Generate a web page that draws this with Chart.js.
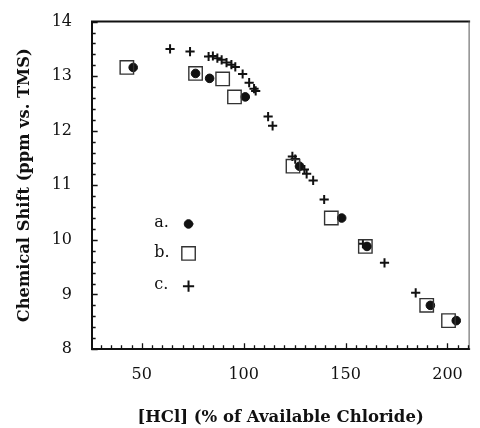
<!DOCTYPE html>
<html>
<head>
<meta charset="utf-8">
<script src="https://cdn.jsdelivr.net/npm/chart.js@4.4.1/dist/chart.umd.min.js"></script>
<style>
  html, body { margin: 0; padding: 0; background: #fff; }
  #wrap { width: 480px; height: 428px; }
</style>
</head>
<body>
<div id="wrap"><canvas id="shiftChart" width="480" height="428"></canvas></div>
<script>
// series a. (filled circles)
const hclA = [45.8, 76.4, 83.3, 100.8, 127.4, 148.1, 160.5, 191.6, 204.3];
const shiftA = [13.16, 13.05, 12.96, 12.62, 11.35, 10.40, 9.88, 8.80, 8.52];

// series b. (open squares)
const hclB = [42.7, 76.4, 89.7, 95.5, 124.2, 143.0, 159.7, 189.8, 200.5];
const shiftB = [13.16, 13.05, 12.95, 12.62, 11.35, 10.40, 9.88, 8.80, 8.52];

// series c. (crosses)
const hclC = [63.9, 73.7, 82.8, 84.9, 87.1, 89.2, 91.6, 94.0, 95.9, 99.5, 102.7, 105.1, 105.9,
              112.0, 114.2, 123.9, 125.3, 129.8, 130.9, 134.1, 139.5, 158.5, 169.1, 184.4];
const shiftC = [13.50, 13.45, 13.36, 13.37, 13.33, 13.30, 13.25, 13.21, 13.17, 13.04, 12.88, 12.77, 12.73,
                12.26, 12.09, 11.53, 11.48, 11.29, 11.21, 11.09, 10.74, 9.93, 9.58, 9.03];

const legendLabels = ['a.', 'b.', 'c.'];
const xTickValues = [50, 100, 150, 200];
const yTickValues = [8, 9, 10, 11, 12, 13, 14];

const serif = '"DejaVu Serif", "Liberation Serif", serif';
const ink = '#111';

function toPoints(xs, ys) {
  return xs.map((x, i) => ({ x: x, y: ys[i] }));
}

const markA = { pointStyle: 'circle', radius: 4.3, backgroundColor: ink, borderColor: ink, borderWidth: 1 };
const markB = { pointStyle: 'rect', radius: 9.5, backgroundColor: 'rgba(0,0,0,0)', borderColor: '#333', borderWidth: 1.4 };
const markC = { pointStyle: 'cross', radius: 4.6, backgroundColor: ink, borderColor: ink, borderWidth: 2 };

function dataset(label, pts, m) {
  return {
    label: label,
    data: pts,
    pointStyle: m.pointStyle,
    pointRadius: m.radius,
    pointBackgroundColor: m.backgroundColor,
    pointBorderColor: m.borderColor,
    pointBorderWidth: m.borderWidth,
    showLine: false
  };
}

// frame, inward tick marks and the in-plot key
const framePlugin = {
  id: 'frame',
  afterDraw(chart) {
    const ctx = chart.ctx;
    const a = chart.chartArea;
    const xs = chart.scales.x;
    const ys = chart.scales.y;
    ctx.save();
    ctx.strokeStyle = ink;
    ctx.lineCap = 'square';

    ctx.lineWidth = 2;
    ctx.beginPath();
    ctx.moveTo(a.right, a.top);
    ctx.lineTo(a.left, a.top);
    ctx.lineTo(a.left, a.bottom);
    ctx.lineTo(a.right, a.bottom);
    ctx.stroke();
    ctx.lineWidth = 1;
    ctx.strokeStyle = '#555';
    ctx.beginPath();
    ctx.moveTo(a.right, a.top);
    ctx.lineTo(a.right, a.bottom);
    ctx.stroke();

    ctx.strokeStyle = ink;
    ctx.lineWidth = 1.3;
    ctx.beginPath();
    for (let v = Math.ceil(xs.min / 5) * 5; v <= xs.max; v += 5) {
      const px = Math.round(xs.getPixelForValue(v)) + 0.5;
      const len = v % 50 === 0 ? 5 : 3;
      ctx.moveTo(px, a.bottom);
      ctx.lineTo(px, a.bottom - len);
    }
    for (let k = 40; k <= 70; k++) {
      const v = k / 5;
      const py = Math.round(ys.getPixelForValue(v)) + 0.5;
      const len = k % 5 === 0 ? 5 : 3;
      ctx.moveTo(a.left, py);
      ctx.lineTo(a.left + len, py);
    }
    ctx.stroke();

    // key
    const marks = [markA, markB, markC];
    const rows = [0.615, 0.705, 0.805];
    const tx = a.left + 0.165 * (a.right - a.left);
    const mx = a.left + 0.256 * (a.right - a.left);
    ctx.font = '16px ' + serif;
    ctx.textBaseline = 'middle';
    ctx.textAlign = 'left';
    legendLabels.forEach((lab, i) => {
      const y = a.top + rows[i] * (a.bottom - a.top);
      ctx.fillStyle = ink;
      ctx.fillText(lab, tx, y);
      ctx.fillStyle = marks[i].backgroundColor;
      ctx.strokeStyle = marks[i].borderColor;
      ctx.lineWidth = marks[i].borderWidth;
      Chart.helpers.drawPoint(ctx, {
        pointStyle: marks[i].pointStyle,
        radius: marks[i].radius,
        borderWidth: marks[i].borderWidth
      }, mx, y + 1);
    });
    ctx.restore();
  }
};

new Chart(document.getElementById('shiftChart'), {
  type: 'scatter',
  data: {
    datasets: [
      dataset('b.', toPoints(hclB, shiftB), markB),
      dataset('c.', toPoints(hclC, shiftC), markC),
      dataset('a.', toPoints(hclA, shiftA), markA)
    ]
  },
  options: {
    responsive: false,
    animation: false,
    layout: { padding: { top: 16, right: 1, left: 0, bottom: 0 } },
    plugins: {
      legend: { display: false },
      tooltip: { enabled: false }
    },
    scales: {
      x: {
        type: 'linear',
        min: 25.6,
        max: 210.6,
        afterBuildTicks: scale => { scale.ticks = xTickValues.map(v => ({ value: v })); },
        afterFit: scale => { scale.height = 79; },
        grid: { display: false },
        border: { display: false },
        ticks: { color: ink, font: { family: serif, size: 16 }, padding: 8, maxRotation: 0 },
        title: {
          display: true,
          text: '[HCl] (% of Available Chloride)',
          color: ink,
          font: { family: serif, size: 16.5, weight: 'bold' },
          padding: { top: 0, bottom: 0 }
        }
      },
      y: {
        type: 'linear',
        min: 8,
        max: 14,
        afterBuildTicks: scale => { scale.ticks = yTickValues.map(v => ({ value: v })); },
        afterFit: scale => { scale.width = 92; },
        grid: { display: false },
        border: { display: false },
        ticks: { color: ink, font: { family: serif, size: 16 }, padding: 12 },
        title: {
          display: true,
          text: 'Chemical Shift (ppm vs. TMS)',
          color: ink,
          font: { family: serif, size: 16.3, weight: 'bold' },
          padding: { top: 15, bottom: 0 }
        }
      }
    }
  },
  plugins: [framePlugin]
});
</script>
</body>
</html>
